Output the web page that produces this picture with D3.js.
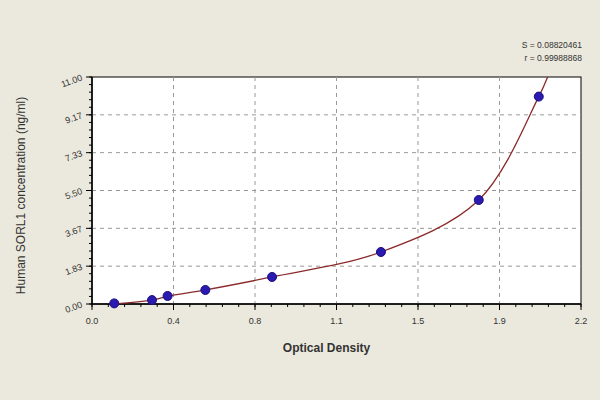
<!DOCTYPE html>
<html><head><meta charset="utf-8">
<script src="https://cdn.jsdelivr.net/npm/d3@7"></script>
<style>body{margin:0;background:#ebe9dd}text{font-family:"Liberation Sans",Arial,sans-serif}</style>
</head><body><svg id="c" width="600" height="400"></svg>
<script>
const od = [0.10, 0.27, 0.34, 0.51, 0.81, 1.30, 1.74, 2.01];
const conc = [0.03, 0.19, 0.39, 0.68, 1.31, 2.52, 5.04, 10.05];
const curveX = [0.10, 0.27, 0.34, 0.51, 0.81, 1.30, 1.74, 2.01, 2.05];
const curveY = [0.00, 0.19, 0.37, 0.68, 1.31, 2.52, 5.04, 10.05, 11.0];
const yTicks = [0, 11/6, 22/6, 33/6, 44/6, 55/6, 11];
const yLabels = ["0.00","1.83","3.67","5.50","7.33","9.17","11.00"];
const xTicks = [0, 2.2/6, 4.4/6, 6.6/6, 8.8/6, 11/6, 2.2];
const xLabels = ["0.0","0.4","0.8","1.1","1.5","1.9","2.2"];
const stats = ["S = 0.08820461", "r = 0.99988868"];

const svg = d3.select("#c");
const L=92,R=581,T=77,B=304;
const x = d3.scaleLinear().domain([0,2.2]).range([L,R]);
const y = d3.scaleLinear().domain([0,11]).range([B,T]);
svg.append("rect").attr("x",L).attr("y",T).attr("width",R-L).attr("height",B-T).attr("fill","#fff").attr("stroke","#000").attr("stroke-width",1);
svg.selectAll(".gx").data(xTicks.slice(1,-1)).enter().append("line").attr("x1",d=>x(d)).attr("x2",d=>x(d)).attr("y1",T).attr("y2",B).attr("stroke","#999").attr("stroke-dasharray","4,4");
svg.selectAll(".gy").data(yTicks.slice(1,-1)).enter().append("line").attr("y1",d=>y(d)).attr("y2",d=>y(d)).attr("x1",L).attr("x2",R).attr("stroke","#999").attr("stroke-dasharray","4,4");
const minorX=[], minorY=[];
for(let i=0;i<=30;i++){minorX.push(2.2*i/30); minorY.push(11*i/30);}
const xa = svg.append("g").attr("transform",`translate(0,${B})`);
xa.append("line").attr("x1",L).attr("x2",R).attr("stroke","#000").attr("stroke-width",1.5);
xa.selectAll(".mt").data(minorX).enter().append("line").attr("x1",d=>x(d)).attr("x2",d=>x(d)).attr("y1",0).attr("y2",3).attr("stroke","#000");
xa.selectAll(".t").data(xTicks).enter().append("line").attr("x1",d=>x(d)).attr("x2",d=>x(d)).attr("y1",0).attr("y2",6).attr("stroke","#000");
xa.selectAll("text").data(xTicks).enter().append("text").attr("x",d=>x(d)).attr("y",20).attr("text-anchor","middle").attr("font-size",9).attr("fill","#333").text((d,i)=>xLabels[i]);
const ya = svg.append("g").attr("transform",`translate(${L},0)`);
ya.append("line").attr("y1",T).attr("y2",B).attr("stroke","#000").attr("stroke-width",1.5);
ya.selectAll(".mt").data(minorY).enter().append("line").attr("y1",d=>y(d)).attr("y2",d=>y(d)).attr("x1",0).attr("x2",-3).attr("stroke","#000");
ya.selectAll(".t").data(yTicks).enter().append("line").attr("y1",d=>y(d)).attr("y2",d=>y(d)).attr("x1",0).attr("x2",-6).attr("stroke","#000");
ya.selectAll("text").data(yTicks).enter().append("text").attr("transform",d=>`translate(-9,${y(d)+3}) rotate(-20)`).attr("text-anchor","end").attr("font-size",9).attr("fill","#333").text((d,i)=>yLabels[i]);
const cpts = curveX.map((v,i)=>[v,curveY[i]]);
svg.append("path").datum(cpts).attr("d",d3.line().x(d=>x(d[0])).y(d=>y(d[1])).curve(d3.curveCatmullRom.alpha(0.5))).attr("fill","none").attr("stroke","#8b2a2a").attr("stroke-width",1.3);
svg.selectAll(".p").data(od).enter().append("circle").attr("cx",d=>x(d)).attr("cy",(d,i)=>y(conc[i])).attr("r",4.5).attr("fill","#2a1ab0").attr("stroke","#1a0f80");
svg.append("text").attr("x",(L+R)/2-10).attr("y",352).attr("text-anchor","middle").attr("font-size",12).attr("font-weight","bold").attr("fill","#333").text("Optical Density");
svg.append("text").attr("transform",`translate(25,${(T+B)/2+5}) rotate(-90)`).attr("text-anchor","middle").attr("font-size",12).attr("fill","#333").text("Human SORL1 concentration (ng/ml)");
svg.selectAll(".st").data(stats).enter().append("text").attr("x",582).attr("y",(d,i)=>48+i*13).attr("text-anchor","end").attr("font-size",8.5).attr("fill","#333").text(d=>d);
</script></body></html>
